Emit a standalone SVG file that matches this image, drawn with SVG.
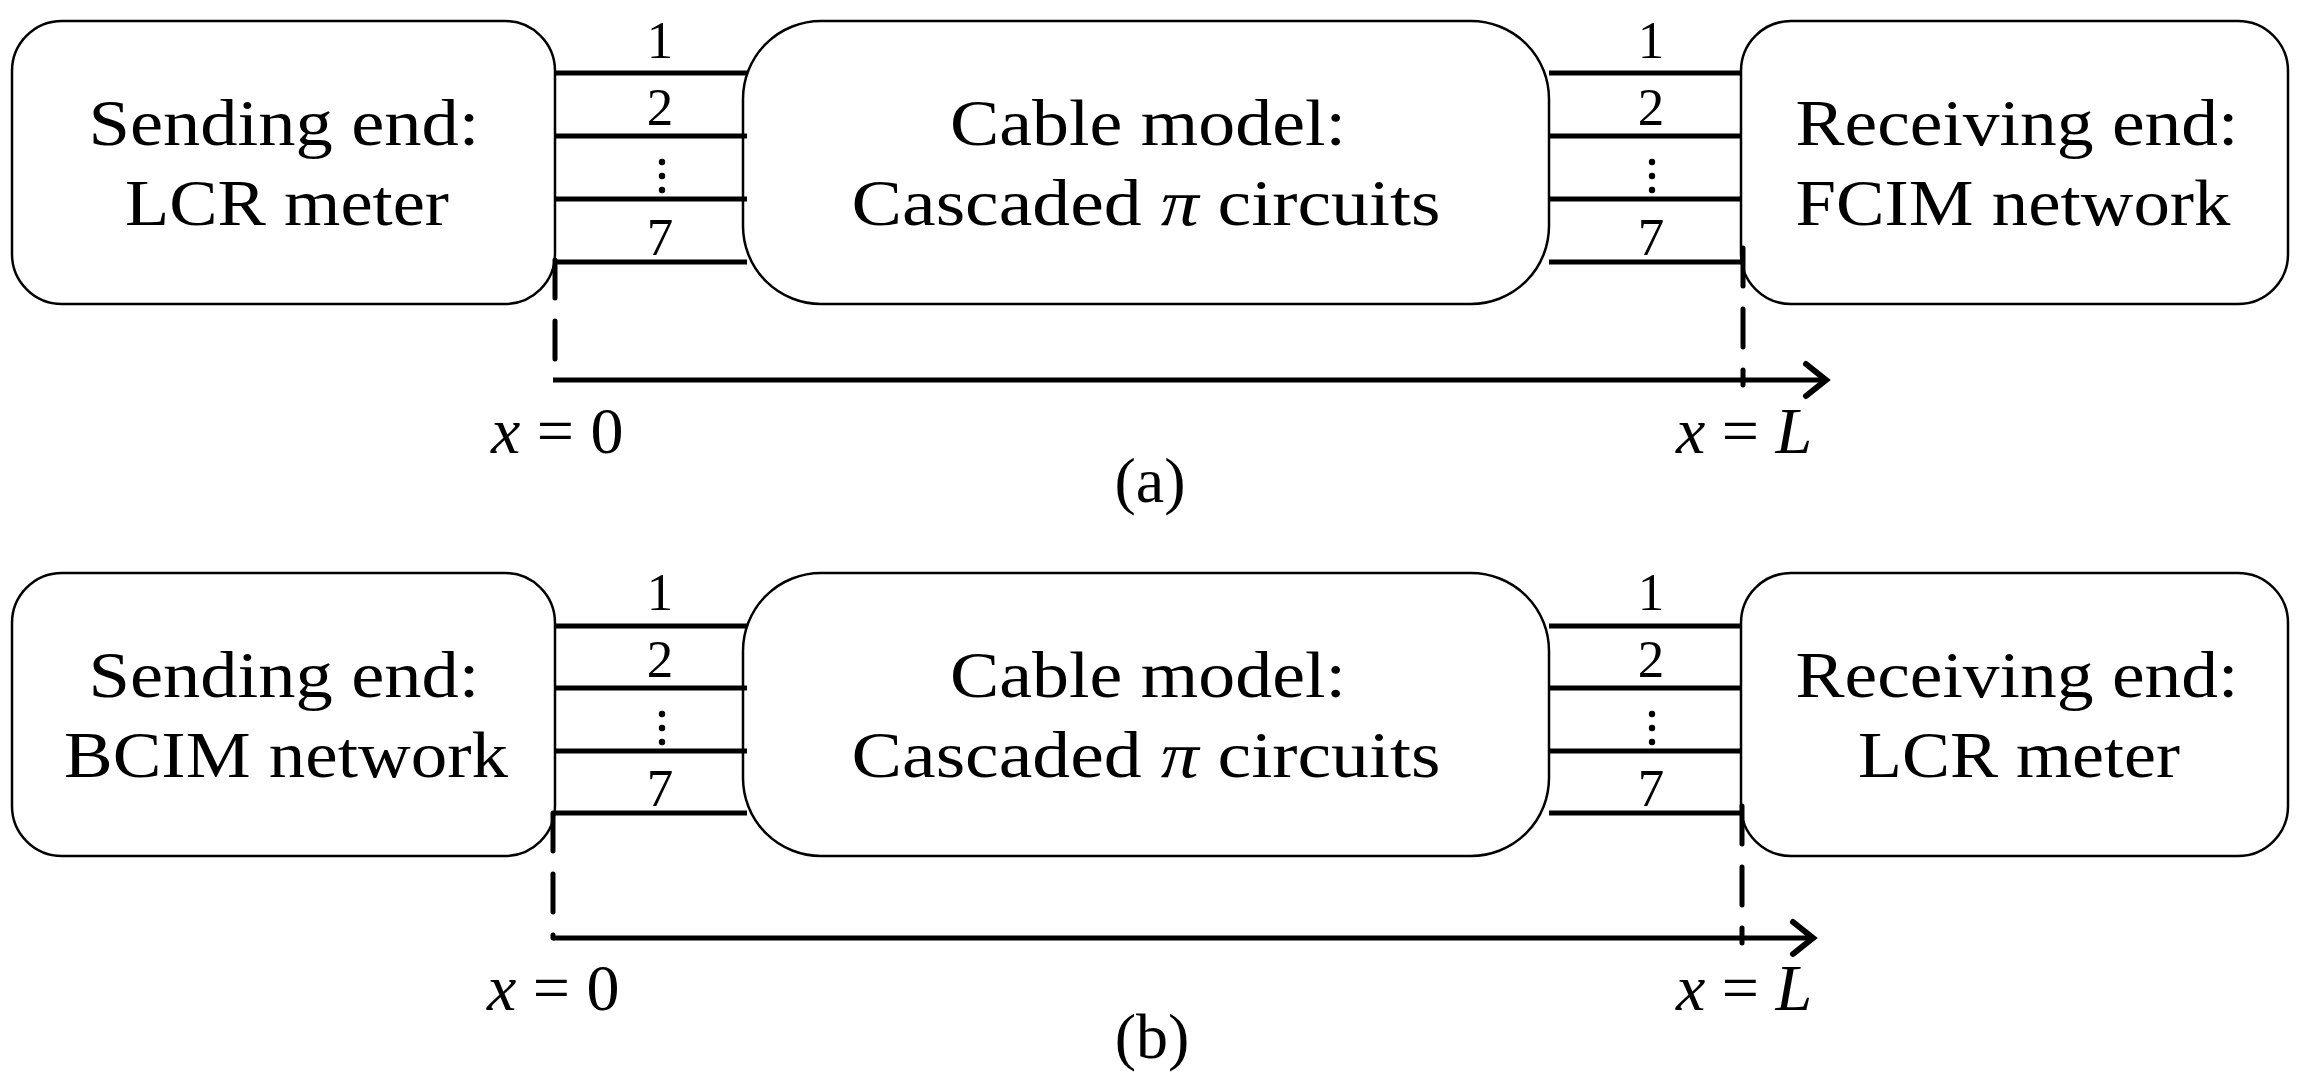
<svg xmlns="http://www.w3.org/2000/svg" width="2302" height="1087" viewBox="0 0 2302 1087">
<style>
.box{fill:#fff;stroke:#000;stroke-width:2.5}
.t{font-family:"Liberation Serif","Times New Roman",serif;font-size:66px;fill:#000;text-anchor:middle}
.n{font-family:"Liberation Serif","Times New Roman",serif;font-size:53px;fill:#000;text-anchor:middle}
.lab{font-family:"Liberation Serif","Times New Roman",serif;font-size:66px;fill:#000}
.cap{font-family:"Liberation Serif","Times New Roman",serif;font-size:64px;fill:#000;text-anchor:middle}
.wire{stroke:#000;stroke-width:5;fill:none}
.dash{stroke:#000;stroke-width:5;fill:none;stroke-dasharray:38 23;stroke-linecap:round}
.axis{stroke:#000;stroke-width:5;fill:none}
.i{font-style:italic}
</style>
<defs>
<marker id="arr" markerUnits="userSpaceOnUse" viewBox="0 0 30 40" refX="24" refY="20" markerWidth="30" markerHeight="40" orient="auto">
<path d="M4,4 L24,20 L4,36" fill="none" stroke="#000" stroke-width="6" stroke-linecap="round" stroke-linejoin="miter"/>
</marker>
<g id="dots"><circle cx="0" cy="0" r="3.2"/><circle cx="0" cy="14" r="3.2"/><circle cx="0" cy="28" r="3.2"/></g>
</defs>
<rect width="2302" height="1087" fill="#fff"/>

<!-- (a) -->
<g id="a-send"><rect class="box" x="12" y="21" width="543" height="283" rx="50" ry="50"/>
<text class="t" x="284" y="145" textLength="391" lengthAdjust="spacingAndGlyphs">Sending end:</text>
<text class="t" x="287" y="225" textLength="324" lengthAdjust="spacingAndGlyphs">LCR meter</text></g>
<g id="a-cable"><rect class="box" x="743" y="21" width="806" height="283" rx="78" ry="78"/>
<text class="t" x="1148" y="145" textLength="396" lengthAdjust="spacingAndGlyphs">Cable model:</text>
<text class="t" x="1146" y="225" textLength="589" lengthAdjust="spacingAndGlyphs">Cascaded <tspan class="i">π</tspan> circuits</text></g>
<g id="a-recv"><rect class="box" x="1741" y="21" width="547" height="283" rx="50" ry="50"/>
<text class="t" x="2017" y="145" textLength="443" lengthAdjust="spacingAndGlyphs">Receiving end:</text>
<text class="t" x="2013" y="225" textLength="435" lengthAdjust="spacingAndGlyphs">FCIM network</text></g>

<g id="a-connectors">
<path class="wire" d="M555,73H747M555,136H747M555,199H747M555,262H747"/>
<path class="wire" d="M1549,73H1741M1549,136H1741M1549,199H1741M1549,262H1741"/>
<line class="dash" x1="555" y1="260" x2="555" y2="380"/>
<line class="dash" x1="1743" y1="248" x2="1743" y2="385"/>
<line class="axis" x1="553" y1="380" x2="1826" y2="380" marker-end="url(#arr)"/>
</g>
<g id="a-labels">
<text class="n" x="660" y="58">1</text><text class="n" x="660" y="125">2</text><use href="#dots" x="662" y="162"/><text class="n" x="660" y="255">7</text>
<text class="n" x="1651" y="58">1</text><text class="n" x="1651" y="125">2</text><use href="#dots" x="1652" y="162"/><text class="n" x="1651" y="255">7</text>
<text class="lab" x="491" y="453"><tspan class="i">x</tspan> = 0</text>
<text class="lab" x="1676" y="453"><tspan class="i">x</tspan> = <tspan class="i">L</tspan></text>
<text class="cap" x="1150" y="502">(a)</text>
</g>

<!-- (b) -->
<g id="b-send"><rect class="box" x="12" y="573" width="543" height="283" rx="50" ry="50"/>
<text class="t" x="284" y="697" textLength="391" lengthAdjust="spacingAndGlyphs">Sending end:</text>
<text class="t" x="286" y="777" textLength="444" lengthAdjust="spacingAndGlyphs">BCIM network</text></g>
<g id="b-cable"><rect class="box" x="743" y="573" width="806" height="283" rx="78" ry="78"/>
<text class="t" x="1148" y="697" textLength="396" lengthAdjust="spacingAndGlyphs">Cable model:</text>
<text class="t" x="1146" y="777" textLength="589" lengthAdjust="spacingAndGlyphs">Cascaded <tspan class="i">π</tspan> circuits</text></g>
<g id="b-recv"><rect class="box" x="1741" y="573" width="547" height="283" rx="50" ry="50"/>
<text class="t" x="2017" y="697" textLength="443" lengthAdjust="spacingAndGlyphs">Receiving end:</text>
<text class="t" x="2019" y="777" textLength="322" lengthAdjust="spacingAndGlyphs">LCR meter</text></g>

<g id="b-connectors">
<path class="wire" d="M555,626H747M555,688H747M555,751H747M555,813H747"/>
<path class="wire" d="M1549,626H1741M1549,688H1741M1549,751H1741M1549,813H1741"/>
<line class="dash" x1="553" y1="813" x2="553" y2="938"/>
<line class="dash" x1="1742" y1="806" x2="1742" y2="943"/>
<line class="axis" x1="553" y1="938" x2="1813" y2="938" marker-end="url(#arr)"/>
</g>
<g id="b-labels">
<text class="n" x="660" y="610">1</text><text class="n" x="660" y="677">2</text><use href="#dots" x="662" y="714"/><text class="n" x="660" y="806">7</text>
<text class="n" x="1651" y="610">1</text><text class="n" x="1651" y="677">2</text><use href="#dots" x="1652" y="714"/><text class="n" x="1651" y="806">7</text>
<text class="lab" x="487" y="1010"><tspan class="i">x</tspan> = 0</text>
<text class="lab" x="1676" y="1010"><tspan class="i">x</tspan> = <tspan class="i">L</tspan></text>
<text class="cap" x="1152" y="1058">(b)</text>
</g>
</svg>
